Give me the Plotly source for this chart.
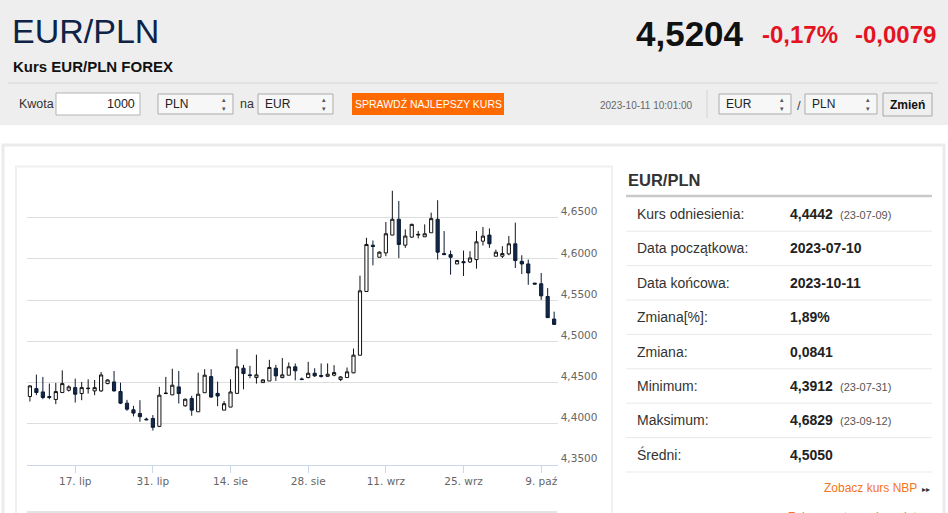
import pandas as pd
import plotly.graph_objects as go

W, H = 948, 513
SANS = "Liberation Sans, Arial, sans-serif"
AXIS_FONT = "DejaVu Sans, Verdana, sans-serif"

# trading days Sun-Fri (forex opens on Sunday evening)
dates = [d.strftime("%Y-%m-%d") for d in pd.date_range("2023-07-09", "2023-10-11") if d.dayofweek != 5]

open_ = [4.4327, 4.4423, 4.4383, 4.4327, 4.4290, 4.4375, 4.4403, 4.4435, 4.4363, 4.4423,
         4.4395, 4.4395, 4.4484, 4.4504, 4.4387, 4.4246, 4.4165, 4.4121, 4.4052, 4.4060,
         4.3964, 4.4363, 4.4347, 4.4444, 4.4214, 4.4302, 4.4141, 4.4373, 4.4569, 4.4365,
         4.4161, 4.4198, 4.4365, 4.4671, 4.4590, 4.4557, 4.4496, 4.4516, 4.4671, 4.4557,
         4.4586, 4.4688, 4.4541, 4.4557, 4.4610, 4.4582, 4.4573, 4.4586, 4.4533, 4.4557,
         4.4615, 4.4829, 4.5604, 4.6167, 4.6020, 4.6073, 4.6290, 4.6482, 4.6167, 4.6265,
         4.6290, 4.6269, 4.6318, 4.6482, 4.6065, 4.6053, 4.5939, 4.5967, 4.5963, 4.5992,
         4.6216, 4.6290, 4.6033, 4.6033, 4.6061, 4.6184, 4.5971, 4.5939, 4.5706, 4.5698,
         4.5543, 4.5269]
high = [4.4464, 4.4593, 4.4565, 4.4484, 4.4492, 4.4645, 4.4464, 4.4544, 4.4504, 4.4536,
        4.4528, 4.4625, 4.4536, 4.4637, 4.4496, 4.4286, 4.4214, 4.4282, 4.4069, 4.4101,
        4.4444, 4.4565, 4.4665, 4.4637, 4.4302, 4.4335, 4.4617, 4.4659, 4.4659, 4.4508,
        4.4271, 4.4537, 4.4904, 4.4712, 4.4700, 4.4835, 4.4537, 4.4773, 4.4712, 4.4794,
        4.4741, 4.4729, 4.4557, 4.4749, 4.4671, 4.4729, 4.4729, 4.4708, 4.4573, 4.4680,
        4.4910, 4.5796, 4.6257, 4.6224, 4.6094, 4.6449, 4.6829, 4.6705, 4.6359, 4.6429,
        4.6339, 4.6420, 4.6563, 4.6714, 4.6339, 4.6102, 4.5988, 4.6102, 4.6094, 4.6339,
        4.6388, 4.6371, 4.6114, 4.6155, 4.6278, 4.6441, 4.6045, 4.5992, 4.5706, 4.5829,
        4.5645, 4.5359]
low = [4.4266, 4.4343, 4.4294, 4.4294, 4.4234, 4.4375, 4.4387, 4.4254, 4.4282, 4.4363,
       4.4343, 4.4383, 4.4476, 4.4387, 4.4234, 4.4153, 4.4085, 4.4020, 4.4040, 4.3912,
       4.3955, 4.4355, 4.4343, 4.4242, 4.4202, 4.4093, 4.4141, 4.4373, 4.4312, 4.4210,
       4.4161, 4.4198, 4.4365, 4.4414, 4.4549, 4.4484, 4.4496, 4.4516, 4.4516, 4.4549,
       4.4586, 4.4524, 4.4533, 4.4549, 4.4565, 4.4557, 4.4565, 4.4573, 4.4516, 4.4557,
       4.4610, 4.4829, 4.5604, 4.5922, 4.6020, 4.6033, 4.6290, 4.6010, 4.6135, 4.6257,
       4.6249, 4.6269, 4.6318, 4.5992, 4.6053, 4.5808, 4.5939, 4.5792, 4.5951, 4.5882,
       4.6163, 4.6135, 4.6033, 4.6012, 4.6045, 4.5890, 4.5816, 4.5686, 4.5694, 4.5502,
       4.5286, 4.5204]
close = [4.4456, 4.4375, 4.4315, 4.4315, 4.4387, 4.4484, 4.4444, 4.4355, 4.4435, 4.4427,
         4.4435, 4.4589, 4.4528, 4.4395, 4.4246, 4.4173, 4.4125, 4.4081, 4.4044, 4.3952,
         4.4343, 4.4367, 4.4464, 4.4363, 4.4294, 4.4161, 4.4355, 4.4586, 4.4320, 4.4333,
         4.4239, 4.4382, 4.4688, 4.4606, 4.4582, 4.4590, 4.4529, 4.4680, 4.4578, 4.4590,
         4.4688, 4.4639, 4.4533, 4.4610, 4.4578, 4.4573, 4.4598, 4.4618, 4.4565, 4.4627,
         4.4830, 4.5612, 4.6176, 4.6151, 4.6082, 4.6306, 4.6482, 4.6176, 4.6278, 4.6420,
         4.6298, 4.6306, 4.6490, 4.6082, 4.6053, 4.6020, 4.5980, 4.5955, 4.6012, 4.6208,
         4.6278, 4.6184, 4.6082, 4.6065, 4.6184, 4.5980, 4.5939, 4.5829, 4.5694, 4.5551,
         4.5286, 4.5204]

tick_dates = ["2023-07-17", "2023-07-31", "2023-08-14", "2023-08-28", "2023-09-11", "2023-09-25", "2023-10-09"]
tick_labels = ["17. lip", "31. lip", "14. sie", "28. sie", "11. wrz", "25. wrz", "9. paź"]
y_ticks = [4.35, 4.40, 4.45, 4.50, 4.55, 4.60, 4.65, 4.70]
y_labels = [f"{v:.4f}".replace(".", ",") for v in y_ticks[:-1]] + [""]

stat_labels = ["Kurs odniesienia:", "Data początkowa:", "Data końcowa:", "Zmiana[%]:",
               "Zmiana:", "Minimum:", "Maksimum:", "Średni:"]
stat_values = ["4,4442", "2023-07-10", "2023-10-11", "1,89%", "0,0841", "4,3912", "4,6829", "4,5050"]
stat_dates = ["(23-07-09)", "", "", "", "", "(23-07-31)", "(23-09-12)", ""]

last_rate, change_pct, change_abs = "4,5204", "-0,17%", "-0,0079"


def px_x(x):
    return x / W


def px_y(y):
    return 1 - y / H


fig = go.Figure()
fig.add_trace(go.Candlestick(
    x=dates, open=open_, high=high, low=low, close=close,
    increasing=dict(line=dict(color="#111111", width=1), fillcolor="#ffffff"),
    decreasing=dict(line=dict(color="#0b1a30", width=1), fillcolor="#12294d"),
    whiskerwidth=0,
    showlegend=False,
    hoverinfo="skip",
))


def rect(x0, y0, x1, y1, fill="rgba(0,0,0,0)", line="rgba(0,0,0,0)", width=1):
    fig.add_shape(type="rect", xref="paper", yref="paper", layer="below",
                  x0=px_x(x0), x1=px_x(x1), y0=px_y(y0), y1=px_y(y1),
                  fillcolor=fill, line=dict(color=line, width=width))


def hline(x0, x1, y, color, width=1):
    fig.add_shape(type="line", xref="paper", yref="paper", layer="below",
                  x0=px_x(x0), x1=px_x(x1), y0=px_y(y), y1=px_y(y),
                  line=dict(color=color, width=width))


def text(x, y, s, size=12, color="#333333", anchor="left", bold=False, family=SANS, yanchor="middle"):
    fig.add_annotation(x=px_x(x), y=px_y(y), xref="paper", yref="paper",
                       text=f"<b>{s}</b>" if bold else s, showarrow=False,
                       xanchor=anchor, yanchor=yanchor, borderpad=0,
                       font=dict(size=size, color=color, family=family))


def select_box(x0, x1, s):
    rect(x0, 94, x1, 114, fill="#f7f7f7", line="#ababab")
    text(x0 + 6, 104, s, size=12, color="#222222")
    text(x1 - 9, 104, "▴<br>▾", size=7, color="#555555", anchor="center", family=AXIS_FONT)


# header
rect(0, 0, W, 125, fill="#eeeeee")
text(11, 31, "EUR/PLN", size=34, color="#0f2346")
text(12, 67, "Kurs EUR/PLN FOREX", size=15, color="#111111", bold=True)
text(745, 33, last_rate, size=35, color="#111111", anchor="right", bold=True)
text(761, 35, change_pct, size=24, color="#e3131f", bold=True)
text(937, 35, change_abs, size=24, color="#e3131f", anchor="right", bold=True)
hline(8, 938, 83, "#d6d6d6")

# converter controls
text(18, 104, "Kwota", size=12.5)
rect(56, 93, 140, 115, fill="#ffffff", line="#b3b3b3")
text(136, 104, "1000", size=12.5, color="#222222", anchor="right")
select_box(158, 233, "PLN")
text(239, 104, "na", size=12.5)
select_box(258, 333, "EUR")
rect(352, 93, 504, 115, fill="#ff6a00")
text(428, 104, "SPRAWDŹ NAJLEPSZY KURS", size=10.5, color="#ffffff", anchor="center")
text(599, 105, "2023-10-11 10:01:00", size=10, color="#666666")
fig.add_shape(type="line", xref="paper", yref="paper", layer="below",
              x0=px_x(707), x1=px_x(707), y0=px_y(90), y1=px_y(118),
              line=dict(color="#d3d3d3", width=1))
select_box(719, 791, "EUR")
text(799, 105, "/", size=13, color="#444444", anchor="center")
select_box(805, 877, "PLN")
rect(883, 93, 932, 116, fill="#efefef", line="#a6a6a6")
text(907.5, 105, "Zmień", size=12, color="#111111", anchor="center", bold=True)

# panels
rect(3, 145, 944, 540, line="#ebebeb", width=3)
rect(16, 166.5, 612, 540, line="#f0f0f0", width=2)
hline(27, 557, 512, "#c6c6c6")

# stats table
text(627, 180, "EUR/PLN", size=16.5, color="#333333", bold=True)
hline(626, 932, 196, "#c9c9c9", width=2.5)
row_y0, row_h = 214, 34.4
for i, (lab, val, dt) in enumerate(zip(stat_labels, stat_values, stat_dates)):
    y = row_y0 + i * row_h
    text(636, y, lab, size=14, color="#333333")
    text(789, y, val, size=14, color="#222222", bold=True)
    if dt:
        text(839, y + 1, dt, size=11, color="#555555")
    hline(626, 932, y + 17.2, "#e9e9e9")
text(918, 488, "Zobacz kurs NBP", size=12, color="#f47521", anchor="right")
text(931, 489, "▸▸", size=8, color="#333333", anchor="right", family=AXIS_FONT)
text(918, 509, "Zobacz notowania walut", size=12, color="#f47521", anchor="right", yanchor="top")

fig.update_layout(
    width=W, height=H,
    margin=dict(l=0, r=0, t=0, b=0),
    paper_bgcolor="#ffffff",
    plot_bgcolor="rgba(0,0,0,0)",
    showlegend=False,
    xaxis=dict(
        domain=[27 / W, 557.7 / W],
        type="category",
        range=[-0.45, len(dates) - 0.45],
        rangeslider=dict(visible=False),
        tickvals=tick_dates, ticktext=tick_labels,
        ticks="outside", ticklen=7, tickcolor="#ccd6eb",
        showline=True, linecolor="#ccd6eb", linewidth=1,
        showgrid=False, fixedrange=True,
        tickfont=dict(family=AXIS_FONT, size=10.5, color="#666666"),
    ),
    yaxis=dict(
        domain=[1 - 464.5 / H, 1 - 176.7 / H],
        side="right",
        range=[4.35, 4.70],
        tickvals=y_ticks, ticktext=y_labels,
        ticks="", showline=False, zeroline=False,
        showgrid=True, gridcolor="#dedede", gridwidth=1,
        ticklabelshift=-6, ticklabelstandoff=2,
        fixedrange=True,
        tickfont=dict(family=AXIS_FONT, size=10.5, color="#666666"),
    ),
)

# the page is photographed edge to edge, so drop the browser's default body margin
fig.write_html(
    "out.html",
    config={"displayModeBar": False},
    post_script="document.body.style.margin = '0px';",
)
